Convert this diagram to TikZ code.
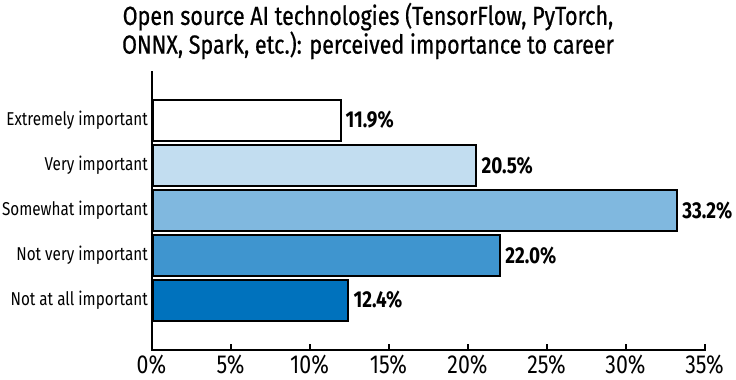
\documentclass[tikz,border=0pt]{standalone}
\usepackage{fontspec}
\setmainfont{Fira Sans}[FakeStretch=0.82]
\newfontfamily\titlefont{Fira Sans}[FakeStretch=0.82, FakeBold=0.6]
\definecolor{cA}{HTML}{FFFFFF}
\definecolor{cB}{HTML}{C2DDF0}
\definecolor{cC}{HTML}{80B8DF}
\definecolor{cD}{HTML}{3F95CF}
\definecolor{cE}{HTML}{0072BD}
\begin{document}
\begin{tikzpicture}[x=1pt,y=-1pt,
  bar/.style={draw=black, line width=2pt, anchor=west, inner sep=0pt, minimum height=41pt},
  cat/.style={anchor=east, inner sep=0pt, font=\fontsize{18.6}{21}\selectfont},
  val/.style={anchor=west, inner sep=0pt, font=\fontsize{23}{25}\selectfont\bfseries},
  tick/.style={font=\fontsize{26}{28}\selectfont, inner sep=0pt, anchor=base},
  axis/.style={line width=2pt}]
\useasboundingbox (0,0) rectangle (736,380);
\node[align=center, font=\titlefont\fontsize{26.2}{25.5}\selectfont, inner sep=0pt] (title) at (368,31)
  {Open source AI technologies (TensorFlow, PyTorch,\\ONNX, Spark, etc.): perceived importance to career};
\coordinate (top) at (151.5,71);
\coordinate (origin) at (151.5,350);
\coordinate (xend) at (706,350);
\foreach \i in {0,...,7}{
  \pgfmathsetmacro{\xx}{151.5+79*\i}
  \pgfmathtruncatemacro{\pp}{5*\i}
  \coordinate (t\i) at (\xx,350);
  \draw[axis] (t\i) -- ++(0,-6.5);
  \node[tick] (tl\i) at (\xx,373.5) {\pp\%};
}
\foreach \n/\y/\v/\c/\lab in {1/120/11.9/cA/Extremely important,2/165.5/20.5/cB/Very important,3/210.5/33.2/cC/Somewhat important,4/255.5/22.0/cD/Not very important,5/300/12.4/cE/Not at all important}{
  \node[bar, fill=\c, minimum width=\v*15.8pt] (b\n) at (151.5,\y) {};
  \node[cat] (c\n) at (148,\y) {\lab};
  \node[val] (v\n) at ([xshift=4pt]b\n.east) {\v\%};
}
\draw[axis] (top) -- (origin) -- (xend);
\end{tikzpicture}
\end{document}
